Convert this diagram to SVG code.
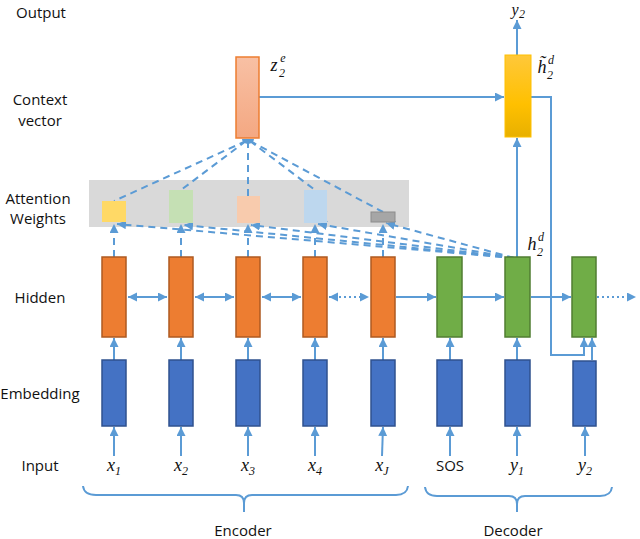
<svg xmlns="http://www.w3.org/2000/svg" width="640" height="539" viewBox="0 0 640 539">
<defs>
<marker id="ah" markerUnits="userSpaceOnUse" markerWidth="10" markerHeight="10" refX="9" refY="4.5" orient="auto-start-reverse"><path d="M0,0 L9,4.5 L0,9 z" fill="#5b9bd5"/></marker>
<linearGradient id="gctx" x1="0" y1="0" x2="0" y2="1"><stop offset="0" stop-color="#f8c0a4"/><stop offset="1" stop-color="#f4a882"/></linearGradient>
<linearGradient id="gyel" x1="0" y1="0" x2="0" y2="1"><stop offset="0" stop-color="#ffc83a"/><stop offset="0.6" stop-color="#ffc000"/><stop offset="1" stop-color="#e8b000"/></linearGradient>
<style>
.lbl{font-family:"Open Sans","Liberation Sans",sans-serif;font-size:15px;fill:#111111;text-anchor:middle}
.m{font-family:"Liberation Serif","DejaVu Serif",serif;font-style:italic;font-size:18px;fill:#111111;text-anchor:middle}
.s{font-size:12px}
.ln{stroke:#5b9bd5;stroke-width:2;fill:none}
.arr{marker-end:url(#ah)}
.bi{marker-start:url(#ah);marker-end:url(#ah)}
.dash{stroke-dasharray:7 5}
.dot{stroke-dasharray:2 3}
.hid{fill:#ed7d31;stroke:#ae5a21;stroke-width:1.5}
.dec{fill:#70ad47;stroke:#507e32;stroke-width:1.5}
.emb{fill:#4472c4;stroke:#2f528f;stroke-width:1.5}
</style>
</defs>
<rect width="640" height="539" fill="#ffffff"/>
<g id="row-labels">
<text class="lbl" x="41" y="18">Output</text>
<text class="lbl" x="40" y="105">Context</text>
<text class="lbl" x="40" y="126">vector</text>
<text class="lbl" x="38" y="204">Attention</text>
<text class="lbl" x="38" y="224">Weights</text>
<text class="lbl" x="40" y="303">Hidden</text>
<text class="lbl" x="40" y="399">Embedding</text>
<text class="lbl" x="40" y="471">Input</text>
</g>
<g id="attention-band"><rect x="89" y="180" width="320" height="47" fill="#d9d9d9"/></g>
<g id="connectors">
<line class="ln arr" x1="114" y1="456" x2="114" y2="427"/>
<line class="ln arr" x1="181" y1="456" x2="181" y2="427"/>
<line class="ln arr" x1="248" y1="456" x2="248" y2="427"/>
<line class="ln arr" x1="315" y1="456" x2="315" y2="427"/>
<line class="ln arr" x1="382" y1="456" x2="383" y2="427"/>
<line class="ln arr" x1="450" y1="456" x2="450" y2="427"/>
<line class="ln arr" x1="517" y1="456" x2="517" y2="427"/>
<line class="ln arr" x1="585" y1="456" x2="585" y2="427"/>
<line class="ln arr" x1="114" y1="360" x2="114" y2="338"/>
<line class="ln arr" x1="181" y1="360" x2="181" y2="338"/>
<line class="ln arr" x1="248" y1="360" x2="248" y2="338"/>
<line class="ln arr" x1="315" y1="360" x2="315" y2="338"/>
<line class="ln arr" x1="383" y1="360" x2="383" y2="338"/>
<line class="ln arr" x1="450" y1="360" x2="450" y2="338"/>
<line class="ln arr" x1="517" y1="360" x2="517" y2="338"/>
<line class="ln arr" x1="592" y1="360" x2="592" y2="338"/>
<line class="ln bi" x1="128" y1="297" x2="167" y2="297"/>
<line class="ln bi" x1="195" y1="297" x2="234" y2="297"/>
<line class="ln bi" x1="262" y1="297" x2="301" y2="297"/>
<line class="ln bi dot" x1="329" y1="297" x2="369" y2="297"/>
<line class="ln arr" x1="396" y1="297" x2="436" y2="297"/>
<line class="ln arr" x1="463" y1="297" x2="504" y2="297"/>
<line class="ln arr" x1="531" y1="297" x2="571" y2="297"/>
<line class="ln arr dot" x1="597" y1="297" x2="636" y2="297"/>
<polyline class="ln arr" points="531,97 551,97 551,355 584,355 584,338"/>
<line class="ln arr" x1="259" y1="97" x2="504" y2="97"/>
<line class="ln arr" x1="517" y1="257" x2="517" y2="138"/>
<line class="ln arr" x1="517" y1="55" x2="517" y2="20"/>
<line class="ln arr dash" x1="114" y1="257" x2="114" y2="224"/>
<line class="ln arr dash" x1="181" y1="257" x2="181" y2="224"/>
<line class="ln arr dash" x1="248" y1="257" x2="248" y2="224"/>
<line class="ln arr dash" x1="315" y1="257" x2="315" y2="224"/>
<line class="ln arr dash" x1="383" y1="257" x2="383" y2="224"/>
<line class="ln arr dash" x1="514" y1="258" x2="117" y2="224"/>
<line class="ln arr dash" x1="514" y1="258" x2="184" y2="225"/>
<line class="ln arr dash" x1="514" y1="258" x2="251" y2="225"/>
<line class="ln arr dash" x1="514" y1="258" x2="318" y2="224"/>
<line class="ln arr dash" x1="514" y1="258" x2="386" y2="223"/>
<line class="ln dash" x1="246" y1="141" x2="114" y2="201"/>
<line class="ln dash" x1="246" y1="141" x2="181" y2="190"/>
<line class="ln dash" x1="248" y1="141" x2="248" y2="196"/>
<line class="ln dash" x1="250" y1="141" x2="315" y2="190"/>
<line class="ln dash" x1="250" y1="141" x2="383" y2="212"/>
<path class="ln" d="M83,486 Q84,495 96,495 H236 Q244,495 244,503 V512 M244,503 Q244,495 252,495 H396 Q407,495 408,486"/>
<path class="ln" d="M425,487 Q426,496 437,496 H509 Q517,496 517,504 V512 M517,504 Q517,496 525,496 H600 Q611,496 612,487"/>
</g>
<g id="attention-weights">
<rect x="102" y="201" width="24" height="21" fill="#ffd966"/>
<rect x="169" y="190" width="24" height="33" fill="#c5e0b4"/>
<rect x="237" y="196" width="23" height="27" fill="#f8cbad"/>
<rect x="304" y="190" width="23" height="33" fill="#bdd7ee"/>
<rect x="371" y="212" width="24" height="10" fill="#a6a6a6" stroke="#8c8c8c" stroke-width="1"/>
</g>
<g id="context-vector">
<rect x="236" y="57" width="23" height="81" fill="url(#gctx)" stroke="#ed7d31" stroke-width="1.5"/>
<path d="M242,139 A6,5 0 0 0 254,139 z" fill="#5b9bd5"/>
<text class="m" x="274" y="71">z</text>
<text class="m s" x="282" y="77">2</text>
<text class="m s" x="283" y="62">e</text>
</g>
<g id="decoder-output">
<rect x="505" y="55" width="26" height="82" fill="url(#gyel)" stroke="#ffc000" stroke-width="1"/>
<text class="m" x="542" y="73">h̃</text>
<text class="m s" x="550" y="79">2</text>
<text class="m s" x="551" y="64">d</text>
<text class="m" x="515" y="15" style="font-size:16px">y</text>
<text class="m s" x="522" y="18">2</text>
</g>
<g id="hidden">
<rect class="hid" x="102" y="257" width="24" height="80"/>
<rect class="hid" x="169" y="257" width="24" height="80"/>
<rect class="hid" x="236" y="257" width="24" height="80"/>
<rect class="hid" x="303" y="257" width="24" height="80"/>
<rect class="hid" x="371" y="257" width="24" height="80"/>
<rect class="dec" x="437" y="257" width="25" height="80"/>
<rect class="dec" x="505" y="257" width="25" height="80"/>
<rect class="dec" x="572" y="257" width="24" height="80"/>
<text class="m" x="532" y="250">h</text>
<text class="m s" x="540" y="256">2</text>
<text class="m s" x="541" y="241">d</text>
</g>
<g id="embedding">
<rect class="emb" x="102" y="360" width="24" height="66"/>
<rect class="emb" x="169" y="360" width="24" height="66"/>
<rect class="emb" x="236" y="360" width="24" height="66"/>
<rect class="emb" x="303" y="360" width="24" height="66"/>
<rect class="emb" x="371" y="360" width="24" height="66"/>
<rect class="emb" x="437" y="360" width="25" height="66"/>
<rect class="emb" x="505" y="360" width="25" height="66"/>
<rect class="emb" x="573" y="361" width="23" height="65"/>
</g>
<g id="inputs">
<text class="m" x="114" y="471">x<tspan class="s" dy="4">1</tspan></text>
<text class="m" x="181" y="471">x<tspan class="s" dy="4">2</tspan></text>
<text class="m" x="248" y="471">x<tspan class="s" dy="4">3</tspan></text>
<text class="m" x="315" y="471">x<tspan class="s" dy="4">4</tspan></text>
<text class="m" x="382" y="471">x<tspan class="s" dy="4">J</tspan></text>
<text class="lbl" x="450" y="471">SOS</text>
<text class="m" x="517" y="471">y<tspan class="s" dy="4">1</tspan></text>
<text class="m" x="585" y="471">y<tspan class="s" dy="4">2</tspan></text>
</g>
<g id="section-labels">
<text class="lbl" x="243" y="536">Encoder</text>
<text class="lbl" x="513" y="536">Decoder</text>
</g>
</svg>
